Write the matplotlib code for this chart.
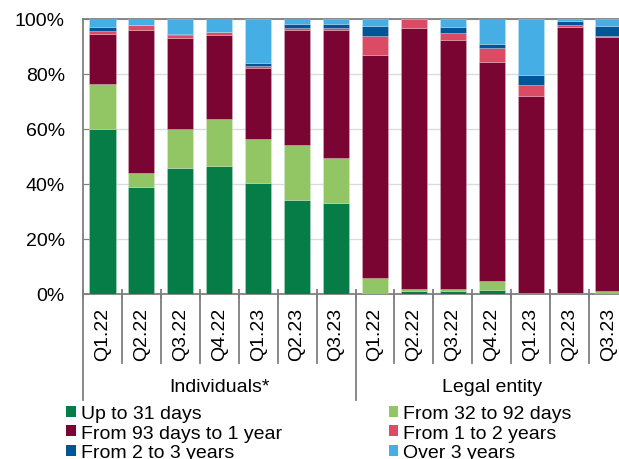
import matplotlib
matplotlib.use("Agg")
import matplotlib.pyplot as plt
import matplotlib.transforms as mtransforms
from matplotlib.patches import Patch
import numpy as np

plt.rcParams['font.family'] = ['Liberation Sans', 'DejaVu Sans']

quarters = ["Q1.22", "Q2.22", "Q3.22", "Q4.22", "Q1.23", "Q2.23", "Q3.23",
            "Q1.22", "Q2.22", "Q3.22", "Q4.22", "Q1.23", "Q2.23", "Q3.23"]
groups = ["Individuals*", "Legal entity"]
series_names = ["Up to 31 days", "From 32 to 92 days", "From 93 days to 1 year",
                "From 1 to 2 years", "From 2 to 3 years", "Over 3 years"]

up_to_31 = [60.0, 38.7, 45.6, 46.4, 40.2, 34.0, 32.9,
            0.0, 0.8, 0.8, 1.2, 0.0, 0.0, 0.0]
d32_92 = [16.2, 5.1, 14.4, 16.9, 15.9, 19.9, 16.4,
          5.8, 0.9, 0.9, 3.5, 0.2, 0.2, 0.8]
d93_1y = [18.0, 52.1, 33.0, 30.6, 25.9, 42.0, 46.6,
          81.1, 94.7, 90.5, 79.6, 71.6, 96.8, 92.5]
y1_2 = [1.2, 1.7, 0.9, 1.1, 0.8, 0.8, 0.7,
        6.8, 3.6, 2.7, 4.9, 3.9, 0.8, 0.2]
y2_3 = [1.4, 0.2, 0.6, 0.1, 1.2, 1.2, 1.5,
        3.6, 0.0, 2.1, 1.7, 3.8, 1.2, 3.6]
over_3 = [3.2, 2.2, 5.5, 5.0, 16.0, 2.1, 1.9,
          2.7, 0.0, 3.0, 9.1, 20.5, 1.0, 2.9]

colors = ["#067D46", "#92C665", "#7B0532", "#DB4B63", "#005596", "#45AEE4"]
series = [up_to_31, d32_92, d93_1y, y1_2, y2_3, over_3]

FS = 14

fig = plt.figure(figsize=(6.19, 4.60), dpi=100)
ax = fig.add_axes([83 / 619, 1 - 294.5 / 460, 545 / 619, 275 / 460])

x = np.arange(len(quarters))
bottom = np.zeros(len(quarters))
for vals, col, name in zip(series, colors, series_names):
    v = np.array(vals)
    ax.bar(x, v, bottom=bottom, width=0.67, color=col, label=name,
           edgecolor=(1, 1, 1, 0.35), linewidth=0.4, zorder=3)
    bottom += v

ax.set_xlim(-0.5, len(quarters) - 0.5)
ax.set_ylim(0, 100)
ax.set_yticks(np.arange(0, 101, 20))
ax.set_yticklabels([f"{t}%" for t in range(0, 101, 20)], fontsize=FS)
ax.yaxis.grid(True, color="#D9DCDC", linewidth=1.0, zorder=0)
ax.set_axisbelow(True)
for s in ["left", "bottom", "top"]:
    ax.spines[s].set_color("#7F7F7F")
    ax.spines[s].set_linewidth(1.3)
ax.spines["right"].set_visible(False)
ax.tick_params(axis="y", direction="in", length=4, color="#7F7F7F", pad=13)

# category boundary ticks
ax.set_xticks(np.arange(-0.5, len(quarters), 1.0))
ax.set_xticklabels([])
ax.tick_params(axis="x", direction="inout", length=7, color="#7F7F7F", width=1.3)

trans = mtransforms.blended_transform_factory(ax.transData, ax.transAxes)
ax_h_px = 275.0
for i, q in enumerate(quarters):
    ax.text(i, -13 / ax_h_px, q, transform=trans, rotation=90, ha="center",
            va="top", fontsize=FS, color="#000000")
# separators
for b in np.arange(-0.5, len(quarters), 1.0):
    if b in (-0.5, 6.5):
        y_end = -106 / ax_h_px
    else:
        y_end = -69 / ax_h_px
    ax.plot([b, b], [0, y_end], transform=trans, color="#7F7F7F",
            linewidth=1.3, clip_on=False)

ax.text(3.0, -93 / ax_h_px, groups[0], transform=trans, ha="center",
        va="center", fontsize=FS)
ax.text(10.0, -93 / ax_h_px, groups[1], transform=trans, ha="center",
        va="center", fontsize=FS)

handles = [Patch(facecolor=c, edgecolor="none") for c in colors]
order = [0, 2, 4, 1, 3, 5]
fig.legend([handles[i] for i in order], [series_names[i] for i in order],
           ncol=2, loc="upper left",
           bbox_to_anchor=(66 / 619, 1 - 406 / 460), frameon=False,
           fontsize=FS, handlelength=0.5, handleheight=0.5,
           handletextpad=0.25, columnspacing=5.5, labelspacing=0.13,
           borderpad=0, borderaxespad=0)

fig.savefig("out.png", dpi=100)
